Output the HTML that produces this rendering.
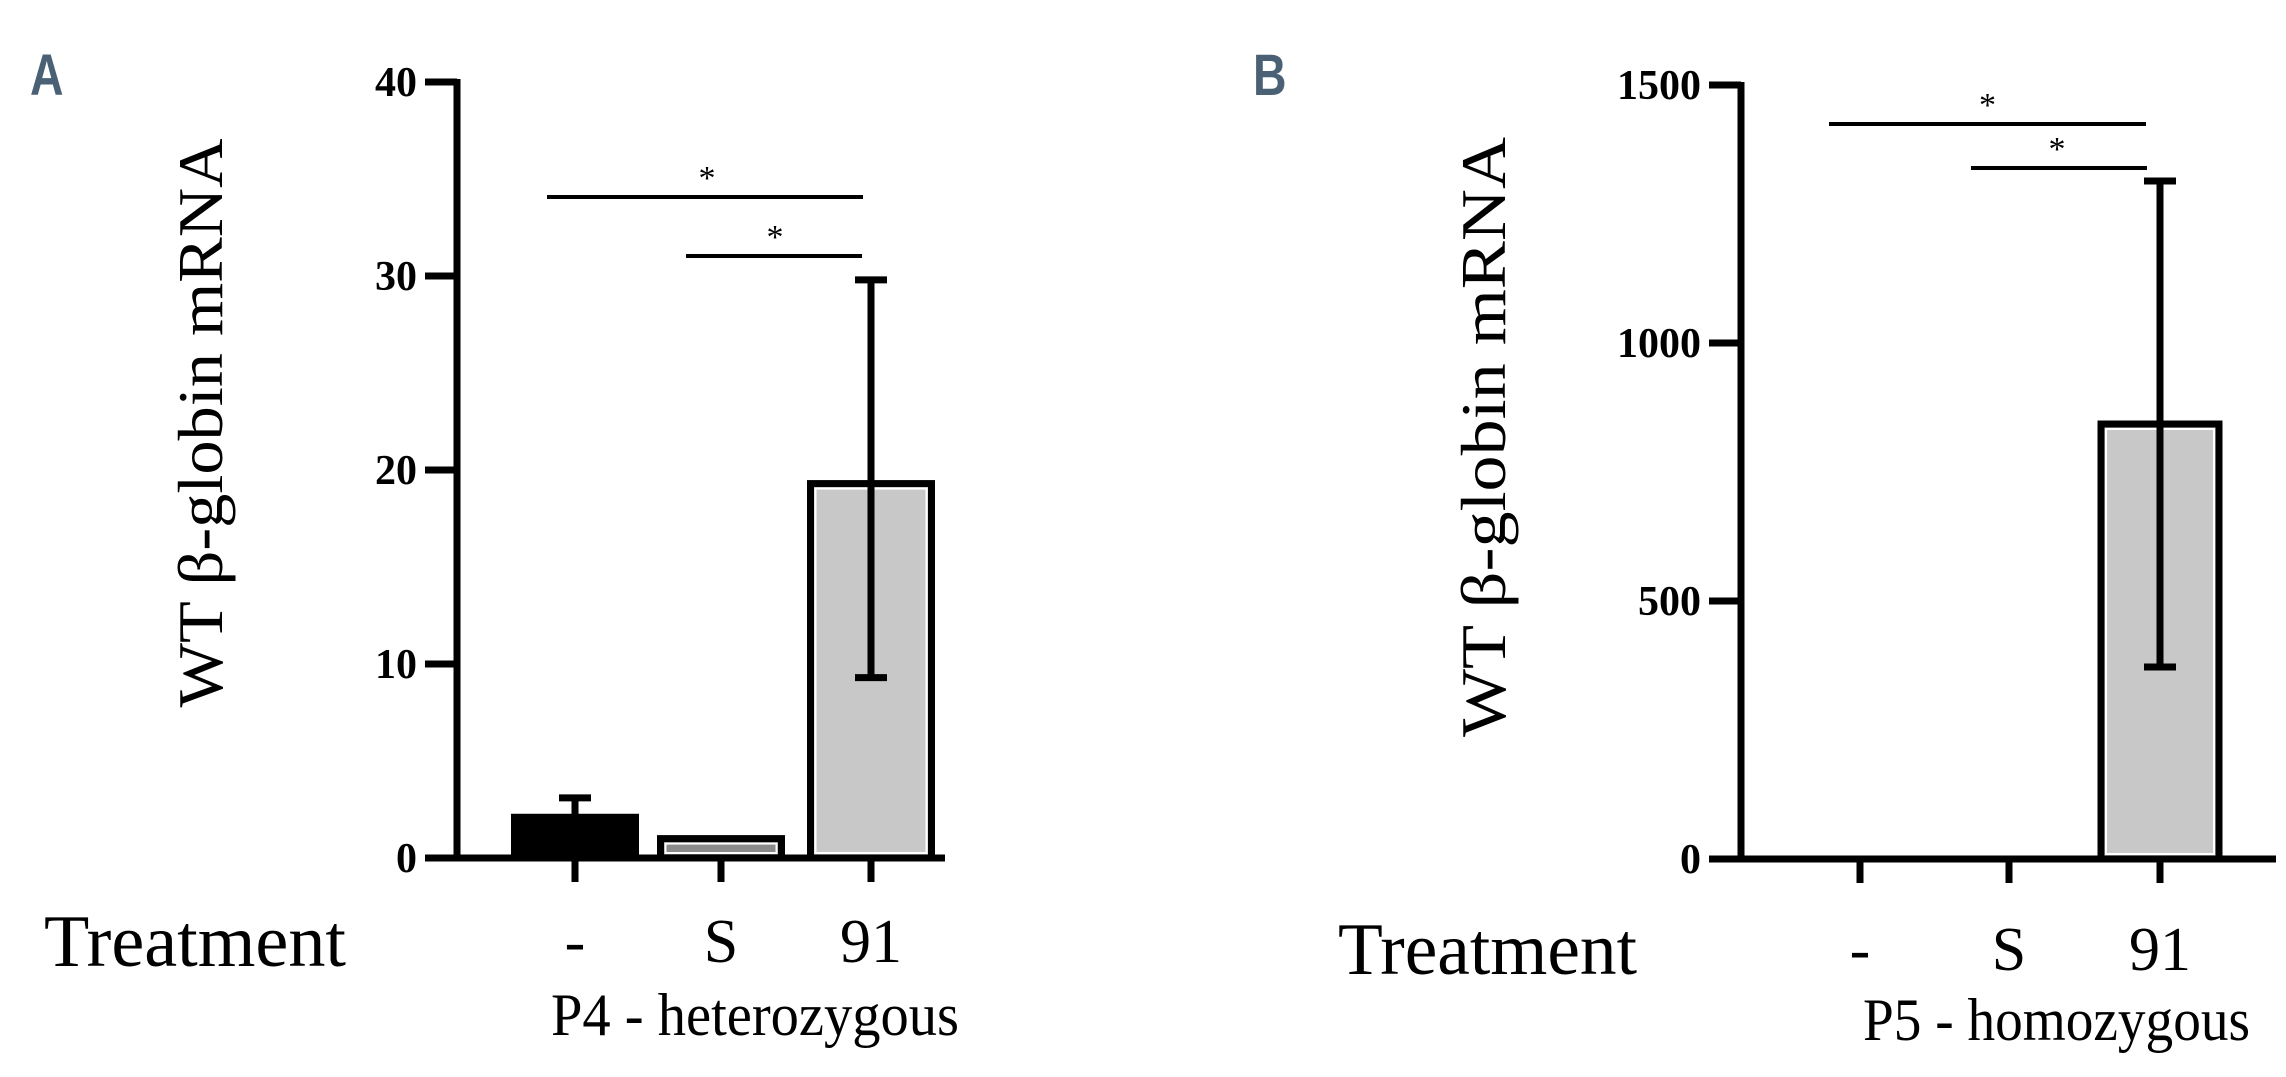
<!DOCTYPE html>
<html><head><meta charset="utf-8"><style>
html,body{margin:0;padding:0;background:#fff;}
svg{display:block;}
text{font-family:"Liberation Serif",serif;fill:#000;}
.lbl{font-family:"Liberation Sans",sans-serif;font-weight:bold;fill:#4a6175;}
</style></head><body>
<svg id="chart" width="2286" height="1077" viewBox="0 0 2286 1077" xmlns="http://www.w3.org/2000/svg">
<text class="lbl" x="30" y="95" font-size="58" transform="translate(30 0) scale(0.8 1) translate(-30 0)">A</text>
<text class="lbl" x="1253" y="95" font-size="58" transform="translate(1253 0) scale(0.8 1) translate(-1253 0)">B</text>
</svg>
<script>
const categories = ["-", "S", "91"];
const valuesA = [2.1, 1.0, 19.3];
const errHighA = [3.1, 1.0, 29.8];
const errLowA = [2.1, 1.0, 9.3];
const ticksA = [0, 10, 20, 30, 40];
const valuesB = [0, 0, 843];
const errHighB = [0, 0, 1314];
const errLowB = [0, 0, 372];
const ticksB = [0, 500, 1000, 1500];
const fills = ["#000000", "#8a8a8a", "#c8c8c8"];

const NS = "http://www.w3.org/2000/svg";
const svg = document.getElementById("chart");
function el(tag, attrs, parent) {
  const e = document.createElementNS(NS, tag);
  for (const k in attrs) e.setAttribute(k, attrs[k]);
  (parent || svg).appendChild(e);
  return e;
}

function panel(p) {
  const g = el("g", {});
  
  
  const y = v => p.y0 - (v - 0) / p.max * (p.y0 - p.yTop);
  const xc = i => p.xc[i];
  p.values.forEach((v, i) => {
    if (v <= 0) return;
    const r = el("rect", {x: xc(i) - p.bw / 2, y: y(v), width: p.bw, height: p.y0 - y(v), fill: fills[i], stroke: "#000", "stroke-width": 7}, g);
    
    
    if (i > 0 && p.y0 - y(v) > 14) {
      el("rect", {x: xc(i) - p.bw / 2 + 5, y: y(v) + 5, width: p.bw - 10, height: p.y0 - y(v) - 10, fill: "none", stroke: "#fff", "stroke-width": 2}, g);
    }
  });
  p.values.forEach((v, i) => {
    if (p.hi[i] <= v && p.lo[i] >= v) return;
    const eg = el("g", {stroke: "#000", "stroke-width": 7}, g);
    
    
    el("line", {x1: xc(i), x2: xc(i), y1: y(p.hi[i]), y2: y(p.lo[i])}, eg);
    el("line", {x1: xc(i) - 16, x2: xc(i) + 16, y1: y(p.hi[i]), y2: y(p.hi[i])}, eg);
    if (p.lo[i] < v) {
      el("line", {x1: xc(i) - 16, x2: xc(i) + 16, y1: y(p.lo[i]), y2: y(p.lo[i])}, eg);
    }
  });
  const ya = el("line", {x1: p.ax, x2: p.ax, y1: y(p.max) - 3, y2: p.y0 + 3, stroke: "#000", "stroke-width": 7}, g);
  
  
  const xa = el("line", {x1: p.ax - 32, x2: p.xEnd, y1: p.y0, y2: p.y0, stroke: "#000", "stroke-width": 7}, g);
  
  
  p.ticks.forEach(t => {
    el("line", {x1: p.ax - 32, x2: p.ax, y1: y(t), y2: y(t), stroke: "#000", "stroke-width": 7}, g);
    const tx = el("text", {x: p.ax - 40, y: y(t) + 14, "font-size": 42, "text-anchor": "end", "font-weight": "bold"}, g);
    tx.textContent = t;
    
    
  });
  categories.forEach((c, i) => {
    el("line", {x1: xc(i), x2: xc(i), y1: p.y0, y2: p.y0 + 24, stroke: "#000", "stroke-width": 7}, g);
    const tx = el("text", {x: xc(i), y: p.catY, "font-size": 62, "text-anchor": "middle"}, g);
    tx.textContent = c;
    
    
  });
  p.sig.forEach(s => {
    el("line", {x1: s[0], x2: s[1], y1: s[2], y2: s[2], stroke: "#000", "stroke-width": 4}, g);
    const st = el("text", {x: (s[0] + s[1]) / 2 + s[3], y: s[2] - 8, "font-size": 34, "text-anchor": "middle"}, g);
    st.textContent = "*";
    
    
  });
  const yt = el("text", {x: 0, y: 0, "font-size": 64, "text-anchor": "middle", textLength: p.ytLen, lengthAdjust: "spacingAndGlyphs", transform: `translate(${p.ytX} ${p.ytY}) rotate(-90)`}, g);
  yt.textContent = "WT β-globin mRNA";
  
  
  const tr = el("text", {x: p.trX, y: p.catY + 4, "font-size": 74, textLength: p.trLen, lengthAdjust: "spacingAndGlyphs"}, g);
  tr.textContent = "Treatment";
  
  
  const sub = el("text", {x: p.subX, y: p.subY, "font-size": 60, textLength: p.subLen, lengthAdjust: "spacingAndGlyphs"}, g);
  sub.textContent = p.sub;
  
  
}

panel({name: "panel-a-chart", values: valuesA, hi: errHighA, lo: errLowA, ticks: ticksA, max: 40,
  y0: 858, yTop: 82, ax: 457, xEnd: 945, xc: [575, 721, 871], bw: 121,
  catY: 962, sig: [[547, 863, 197, 2], [686, 862, 256, 1]],
  ytX: 222, ytY: 423, ytLen: 569, trX: 44, trLen: 302, subX: 551, subY: 1035, subLen: 408, sub: "P4 - heterozygous"});
panel({name: "panel-b-chart", values: valuesB, hi: errHighB, lo: errLowB, ticks: ticksB, max: 1500,
  y0: 859, yTop: 85, ax: 1741, xEnd: 2276, xc: [1860, 2009, 2160], bw: 118,
  catY: 970, sig: [[1829, 2146, 124, 0], [1971, 2147, 168, -2]],
  ytX: 1505, ytY: 437, ytLen: 600, trX: 1338, trLen: 299, subX: 1863, subY: 1040, subLen: 387, sub: "P5 - homozygous"});
</script>
</body></html>
